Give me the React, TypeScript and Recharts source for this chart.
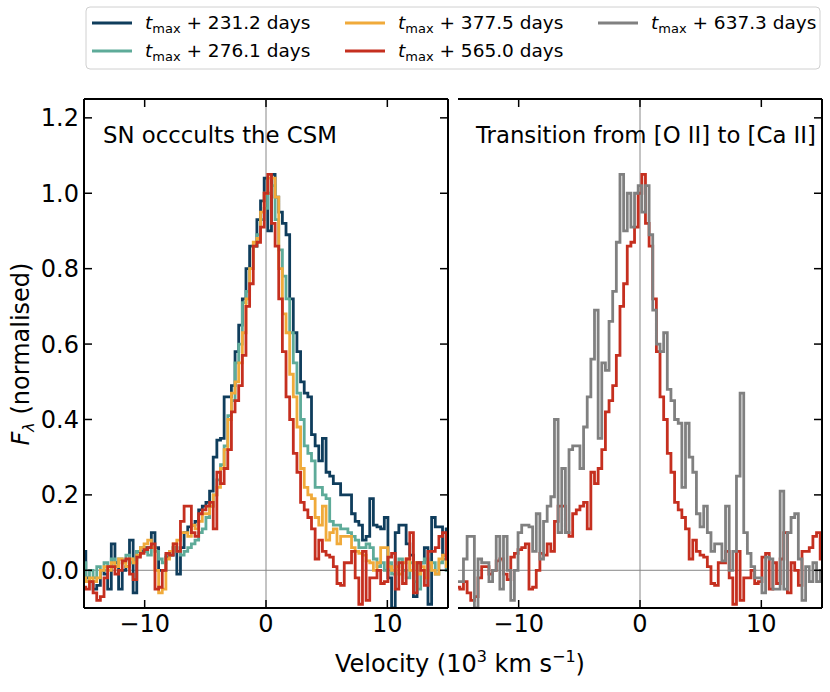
import React from "react";
import { LineChart, Line, XAxis, YAxis, ReferenceLine } from "recharts";

// velocity bins, 10^3 km/s
const VELOCITY = [
  -15.0, -14.7, -14.4, -14.1, -13.8, -13.5, -13.2, -12.9, -12.6, -12.3,
  -12.0, -11.7, -11.4, -11.1, -10.8, -10.5, -10.2, -9.9, -9.6, -9.3,
  -9.0, -8.7, -8.4, -8.1, -7.8, -7.5, -7.2, -6.9, -6.6, -6.3,
  -6.0, -5.7, -5.4, -5.1, -4.8, -4.5, -4.2, -3.9, -3.6, -3.3,
  -3.0, -2.7, -2.4, -2.1, -1.8, -1.5, -1.2, -0.9, -0.6, -0.3,
  0.0, 0.3, 0.6, 0.9, 1.2, 1.5, 1.8, 2.1, 2.4, 2.7,
  3.0, 3.3, 3.6, 3.9, 4.2, 4.5, 4.8, 5.1, 5.4, 5.7,
  6.0, 6.3, 6.6, 6.9, 7.2, 7.5, 7.8, 8.1, 8.4, 8.7,
  9.0, 9.3, 9.6, 9.9, 10.2, 10.5, 10.8, 11.1, 11.4, 11.7,
  12.0, 12.3, 12.6, 12.9, 13.2, 13.5, 13.8, 14.1, 14.4, 14.7,
  15.0,
];

const FLUX_231 = [
  0.05, -0.02, -0.03, -0.05, -0.04, 0.0, -0.01, -0.05, 0.07, 0.02,
  -0.05, 0.0, 0.01, 0.08, -0.06, 0.05, 0.05, 0.06, 0.06, 0.1,
  0.06, 0.0, 0.0, 0.035, 0.04, 0.06, -0.01, 0.06, 0.1, 0.115,
  0.12, 0.13, 0.16, 0.17, 0.18, 0.21, 0.3, 0.345, 0.35, 0.46,
  0.46, 0.49, 0.58, 0.65, 0.72, 0.8, 0.86, 0.86, 0.93, 0.98,
  1.04, 0.9, 1.05, 0.99, 0.95, 0.92, 0.89, 0.72, 0.63, 0.58,
  0.5, 0.47, 0.46, 0.36, 0.33, 0.29, 0.35, 0.26, 0.25, 0.23,
  0.23, 0.2, 0.2, 0.2, 0.15, 0.13, 0.12, 0.08, 0.09, 0.19,
  0.12, 0.115, 0.11, 0.14, -0.02, -0.1, 0.1, 0.12, 0.12, 0.07,
  0.04, -0.07, 0.02, 0.02, 0.06, -0.09, 0.14, 0.115, 0.115, 0.04,
  0.11,
];

const FLUX_276 = [
  0.02, -0.03, 0.0, -0.02, 0.01, 0.0, 0.02, 0.01, 0.03, 0.01,
  0.03, 0.02, 0.04, 0.02, 0.03, 0.05, 0.06, 0.05, 0.04, 0.06,
  0.05, 0.03, 0.02, 0.04, 0.05, 0.06, 0.05, 0.04, 0.05, 0.06,
  0.07, 0.08, 0.1, 0.11, 0.14, 0.17, 0.2, 0.24, 0.28, 0.33,
  0.41, 0.45, 0.55, 0.6, 0.71, 0.74, 0.8, 0.86, 0.89, 0.93,
  0.96, 1.0, 1.02, 0.93, 0.85, 0.78, 0.72, 0.63, 0.55, 0.47,
  0.4, 0.33, 0.31, 0.29, 0.22, 0.22, 0.2, 0.19, 0.13, 0.12,
  0.12, 0.11, 0.11, 0.1, 0.09, 0.08, 0.06, 0.06, 0.07, 0.06,
  0.03, 0.01, 0.02, 0.0, 0.02, -0.01, 0.01, 0.03, 0.0, -0.02,
  0.02, -0.03, -0.05, 0.02, 0.03, 0.0, 0.02, -0.01, 0.02, 0.03,
  0.0,
];

const FLUX_377 = [
  -0.02, -0.03, -0.02, -0.03, -0.02, 0.0, 0.01, 0.0, 0.02, 0.01,
  0.03, 0.02, 0.01, 0.03, 0.02, 0.04, 0.06, 0.07, 0.08, 0.06,
  0.0, -0.06, -0.05, 0.03, 0.05, 0.07, 0.08, 0.1, 0.1, 0.09,
  0.12, 0.11, 0.13, 0.15, 0.15, 0.17, 0.2, 0.22, 0.27, 0.32,
  0.4, 0.47, 0.5, 0.55, 0.63, 0.72, 0.8, 0.87, 0.88, 0.95,
  1.0, 1.04, 1.04, 0.99, 0.8, 0.68, 0.63, 0.52, 0.46, 0.38,
  0.27, 0.22, 0.2, 0.19, 0.14, 0.12, 0.17, 0.08, 0.1, 0.11,
  0.07, 0.09, 0.09, 0.09, 0.06, 0.05, 0.045, 0.04, 0.025, 0.02,
  0.0, 0.02, 0.06, 0.06, 0.01, 0.0, 0.01, -0.01, 0.02, 0.03,
  0.0, 0.02, -0.01, 0.01, -0.02, 0.02, 0.0, -0.01, 0.03, 0.04,
  0.01,
];

const FLUX_565 = [
  -0.045, -0.05, -0.03, -0.06, -0.08, -0.07, -0.02, 0.01, 0.01, -0.01,
  0.0, 0.025, 0.03, -0.01, -0.025, 0.035, 0.045, 0.055, 0.06, 0.07,
  -0.05, -0.045, 0.0, 0.045, 0.04, 0.07, 0.05, 0.13, 0.17, 0.17,
  0.1, 0.09, 0.15, 0.16, 0.17, 0.18, 0.11, 0.26, 0.23, 0.27,
  0.32, 0.42, 0.45, 0.49, 0.57, 0.7, 0.76, 0.86, 0.87, 0.91,
  1.0, 1.05, 0.92, 0.86, 0.72, 0.58, 0.46, 0.4, 0.31, 0.26,
  0.18, 0.16, 0.14, 0.11, 0.03, 0.08, 0.05, 0.04, 0.035, 0.01,
  -0.035, -0.04, 0.02, 0.02, 0.05, -0.02, -0.09, 0.05, -0.08, -0.02,
  -0.02, 0.0, -0.035, -0.03, 0.035, 0.045, -0.05, 0.02, -0.035, 0.03,
  0.1, -0.06, 0.02, 0.0, -0.04, 0.05, 0.05, 0.06, 0.09, 0.1,
  0.03,
];

const FLUX_637 = [
  -0.03, -0.03, 0.03, 0.09, 0.09, -0.1, 0.03, 0.02, 0.02, -0.03,
  0.0, 0.09, -0.05, 0.09, 0.0, -0.08, 0.0, 0.1, 0.12, 0.12,
  0.115, 0.05, 0.15, 0.03, 0.13, 0.17, 0.195, 0.4, 0.1, 0.27,
  0.1, 0.32, 0.33, 0.33, 0.27, 0.38, 0.46, 0.56, 0.69, 0.35,
  0.55, 0.53, 0.66, 0.74, 0.87, 1.05, 0.9, 1.0, 0.91, 1.0,
  1.02, 0.95, 1.02, 0.89, 0.69, 0.6, 0.58, 0.63, 0.48, 0.45,
  0.4, 0.39, 0.22, 0.39, 0.3, 0.26, 0.15, 0.115, 0.17, 0.1,
  0.05, 0.07, 0.07, 0.025, 0.17, 0.0, 0.05, 0.25, 0.47, 0.1,
  0.045, 0.01, -0.02, -0.02, -0.06, 0.035, 0.03, -0.05, -0.05, 0.21,
  -0.05, 0.1, 0.14, 0.15, 0.03, -0.08, 0.01, -0.03, 0.02, -0.03,
  0.0,
];

const X_TICKS = [-10, 0, 10];
const Y_TICKS = [0, 0.2, 0.4, 0.6, 0.8, 1.0, 1.2];

const SERIES = [
  { key: "d231", label: "231.2", color: "#0f3d5c", values: FLUX_231 },
  { key: "d276", label: "276.1", color: "#5eab99", values: FLUX_276 },
  { key: "d377", label: "377.5", color: "#f0aa3a", values: FLUX_377 },
  { key: "d565", label: "565.0", color: "#c52f1f", values: FLUX_565 },
  { key: "d637", label: "637.3", color: "#808080", values: FLUX_637 },
];

const rows = VELOCITY.map((v, i) => {
  const row: Record<string, number> = { v };
  SERIES.forEach((s) => (row[s.key] = s.values[i]));
  return row;
});

const FONT = "DejaVu Sans, sans-serif";
const TICK_LEN = 8;
const frame = { stroke: "#000", strokeWidth: 2 };

const fmtX = (v: number) => (v < 0 ? `\u2212${Math.abs(v)}` : `${v}`);

function BottomTick(props: any) {
  const { x, y, payload } = props;
  return (
    <g>
      <line x1={x} x2={x} y1={y} y2={y - TICK_LEN} stroke="#000" strokeWidth={1.5} />
      <text x={x} y={y + 24} textAnchor="middle" fontSize={24} fontFamily={FONT} fill="#000">
        {fmtX(payload.value)}
      </text>
    </g>
  );
}

function TopTick(props: any) {
  const { x, y } = props;
  return <line x1={x} x2={x} y1={y} y2={y + TICK_LEN} stroke="#000" strokeWidth={1.5} />;
}

function LeftTick(props: any) {
  const { x, y, payload, showLabel } = props;
  return (
    <g>
      <line x1={x} x2={x + TICK_LEN} y1={y} y2={y} stroke="#000" strokeWidth={1.5} />
      {showLabel && (
        <text x={x - 5} y={y + 8.5} textAnchor="end" fontSize={24} fontFamily={FONT} fill="#000">
          {payload.value.toFixed(1)}
        </text>
      )}
    </g>
  );
}

function RightTick(props: any) {
  const { x, y } = props;
  return <line x1={x} x2={x - TICK_LEN} y1={y} y2={y} stroke="#000" strokeWidth={1.5} />;
}

function Panel({ keys, width, leftWidth, marginRight, showYLabels }: {
  keys: string[]; width: number; leftWidth: number; marginRight: number; showYLabels: boolean;
}) {
  return (
    <LineChart width={width} height={692} data={rows}
      margin={{ top: 98, right: marginRight, bottom: 0, left: 0 }}>
      <XAxis dataKey="v" type="number" domain={[-15, 15]} ticks={X_TICKS} allowDataOverflow
        height={84} tickSize={0} tickMargin={0} tickLine={false} axisLine={frame}
        tick={<BottomTick />} />
      <XAxis xAxisId="top" orientation="top" dataKey="v" type="number" domain={[-15, 15]}
        ticks={X_TICKS} allowDataOverflow height={1} tickSize={0} tickMargin={0}
        tickLine={false} axisLine={frame} tick={<TopTick />} />
      <YAxis type="number" domain={[-0.1, 1.25]} ticks={Y_TICKS} allowDataOverflow
        width={leftWidth} tickSize={0} tickMargin={0} tickLine={false} axisLine={frame}
        tick={<LeftTick showLabel={showYLabels} />} />
      <YAxis yAxisId="right" orientation="right" type="number" domain={[-0.1, 1.25]}
        ticks={Y_TICKS} allowDataOverflow width={1} tickSize={0} tickMargin={0}
        tickLine={false} axisLine={frame} tick={<RightTick />} />
      <ReferenceLine x={0} stroke="#888" strokeWidth={1} />
      <ReferenceLine y={0} stroke="#888" strokeWidth={1} />
      {SERIES.filter((s) => keys.includes(s.key)).map((s) => (
        <Line key={s.key} type="step" dataKey={s.key} stroke={s.color} strokeWidth={2.8}
          dot={false} activeDot={false} isAnimationActive={false} />
      ))}
    </LineChart>
  );
}

function LegendEntry({ x, y, color, label }: { x: number; y: number; color: string; label: string }) {
  return (
    <g>
      <line x1={x} x2={x + 40} y1={y} y2={y} stroke={color} strokeWidth={3} />
      <text x={x + 53} y={y + 6} fontSize={18.5} fontFamily={FONT} fill="#000">
        <tspan fontStyle="italic">t</tspan>
        <tspan fontSize={13} dy={4}>max</tspan>
        <tspan dy={-4}>{` + ${label} days`}</tspan>
      </text>
    </g>
  );
}

export default function App() {
  const legendPos = [
    { x: 92, y: 23 }, { x: 92, y: 51 }, { x: 345, y: 23 }, { x: 345, y: 51 }, { x: 598, y: 23 },
  ];
  return (
    <div style={{ position: "absolute", left: 0, top: 0, width: 830, height: 692, background: "#fff" }}>
      <div style={{ position: "absolute", left: 0, top: 0 }}>
        <Panel keys={["d231", "d276", "d377", "d565"]} width={450} leftWidth={84} marginRight={1} showYLabels />
      </div>
      <div style={{ position: "absolute", left: 458, top: 0 }}>
        <Panel keys={["d565", "d637"]} width={372} leftWidth={0} marginRight={7} showYLabels={false} />
      </div>
      <svg width={830} height={692} style={{ position: "absolute", left: 0, top: 0, pointerEvents: "none" }}>
        <rect x={86} y={7} width={734} height={62} rx={4} fill="#fff" stroke="#d0d0d0" strokeWidth={1} />
        {SERIES.map((s, i) => (
          <LegendEntry key={s.key} x={legendPos[i].x} y={legendPos[i].y} color={s.color} label={s.label} />
        ))}
        <text x={103} y={143} fontSize={22.8} fontFamily={FONT}>SN occcults the CSM</text>
        <text x={476} y={143} fontSize={22.8} fontFamily={FONT}>Transition from [O II] to [Ca II]</text>
        <text x={460} y={672} textAnchor="middle" fontSize={24} fontFamily={FONT}>
          Velocity (10<tspan fontSize={16} dy={-10}>3</tspan>
          <tspan dy={10}> km s</tspan>
          <tspan fontSize={16} dy={-10}>{"\u22121"}</tspan>
          <tspan dy={10}>)</tspan>
        </text>
        <text transform="translate(29,354) rotate(-90)" textAnchor="middle" fontSize={24} fontFamily={FONT}>
          <tspan fontStyle="italic">F</tspan>
          <tspan fontSize={16} dy={5} fontStyle="italic">{"\u03bb"}</tspan>
          <tspan dy={-5}> (normalised)</tspan>
        </text>
      </svg>
    </div>
  );
}
